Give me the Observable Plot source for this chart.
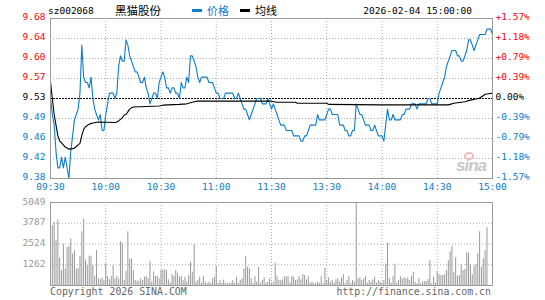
<!DOCTYPE html>
<html><head><meta charset="utf-8">
<script src="https://cdn.jsdelivr.net/npm/d3@7"></script>
<script src="https://cdn.jsdelivr.net/npm/@observablehq/plot@0.6"></script>
<style>
body{margin:0;background:#fff}
#wrap{position:relative;width:545px;height:300px;overflow:hidden;font-family:"DejaVu Sans Mono",monospace}
#wrap svg{position:absolute;left:0;top:0}
.t{position:absolute;white-space:nowrap;line-height:12px}
</style></head>
<body><div id="wrap"></div>
<script>
// ---- data ----
const code = "sz002068";
const stockName = "黑猫股份";
const legendNames = ["价格", "均线"];
const stamp = "2026-02-04 15:00:00";
const prevClose = 9.53;
const timeLabels = ["09:30","10:00","10:30","11:00","11:30","13:30","14:00","14:30","15:00"];
const timeTickIdx = [0,30,60,90,120,150,180,210,240];
const priceTicks = [9.38,9.4175,9.455,9.4925,9.53,9.5675,9.605,9.6425,9.68];
const priceTickLabels = ["9.38","9.42","9.46","9.49","9.53","9.57","9.60","9.64","9.68"];
const pctTickLabels = ["-1.57%","-1.18%","-0.79%","-0.39%","0.00%","+0.39%","+0.79%","+1.18%","+1.57%"];
const volTicks = [1262,2524,3787,5049];
const volTickLabels = ["1262","2524","3787","5049"];
// minute prices, index 0 = 09:30 ... 120 = 11:30/13:00 ... 240 = 15:00
const prices = [
9.53,9.50,9.48,9.43,9.40,9.40,9.42,9.40,9.42,9.40,
9.38,9.43,9.46,9.49,9.50,9.51,9.54,9.63,9.57,9.56,
9.56,9.55,9.57,9.53,9.51,9.50,9.49,9.50,9.47,9.47,
9.50,9.52,9.54,9.54,9.54,9.53,9.54,9.59,9.61,9.60,
9.60,9.64,9.63,9.61,9.60,9.59,9.58,9.58,9.57,9.56,
9.56,9.57,9.55,9.54,9.52,9.53,9.54,9.54,9.53,9.56,
9.57,9.58,9.57,9.55,9.55,9.54,9.55,9.55,9.54,9.54,
9.53,9.56,9.55,9.55,9.57,9.56,9.61,9.61,9.60,9.59,
9.57,9.56,9.57,9.57,9.57,9.57,9.56,9.56,9.56,9.55,
9.54,9.54,9.53,9.53,9.53,9.54,9.54,9.54,9.54,9.54,
9.53,9.53,9.54,9.53,9.52,9.51,9.51,9.50,9.49,9.50,
9.51,9.52,9.53,9.53,9.53,9.52,9.52,9.52,9.53,9.52,
9.51,9.52,9.51,9.50,9.49,9.48,9.48,9.48,9.47,9.47,
9.47,9.47,9.46,9.46,9.46,9.46,9.45,9.45,9.46,9.46,
9.47,9.48,9.48,9.48,9.48,9.50,9.49,9.49,9.49,9.49,
9.50,9.51,9.51,9.50,9.50,9.50,9.50,9.48,9.48,9.48,
9.47,9.47,9.46,9.46,9.47,9.47,9.52,9.51,9.50,9.50,
9.49,9.48,9.48,9.48,9.47,9.47,9.48,9.47,9.46,9.46,
9.46,9.45,9.48,9.51,9.49,9.49,9.50,9.49,9.49,9.49,
9.49,9.50,9.50,9.51,9.51,9.51,9.52,9.52,9.52,9.51,
9.52,9.52,9.52,9.52,9.52,9.53,9.53,9.52,9.52,9.52,
9.52,9.54,9.55,9.56,9.57,9.59,9.60,9.61,9.62,9.62,
9.62,9.61,9.61,9.60,9.60,9.61,9.62,9.64,9.64,9.63,
9.62,9.63,9.64,9.65,9.65,9.65,9.65,9.66,9.66,9.66,
9.65];
// average price line (minute index, value)
const avgIdx = [0,1,2,3,4,5,6,7,8,9,10,12,13,14,15,16,17,18,19,21,23,26,35,36,37,38,39,40,41,42,43,44,45,59,61,70,74,76,78,80,120,123,133,134,150,151,180,216,217,219,221,225,228,231,233,235,236,238,240];
const avgVal = [9.561,9.53,9.50,9.48,9.46,9.45,9.447,9.443,9.439,9.437,9.435,9.436,9.437,9.44,9.443,9.446,9.461,9.472,9.477,9.482,9.484,9.486,9.485,9.486,9.488,9.491,9.494,9.499,9.50,9.505,9.51,9.5125,9.514,9.516,9.5175,9.519,9.52,9.522,9.524,9.525,9.525,9.523,9.523,9.521,9.521,9.519,9.518,9.518,9.519,9.521,9.522,9.524,9.527,9.529,9.531,9.535,9.538,9.539,9.54];
// minute volume
const volumes = [
545,3636,3838,2727,4000,1677,909,2485,1010,2323,
2363,2828,1919,2121,1010,1010,1757,3272,4040,1555,
1212,1798,1757,1212,545,2121,404,343,465,303,
1313,545,343,545,1212,404,545,404,2666,2565,
303,869,3272,1616,1616,909,303,263,263,404,
303,505,545,404,1474,202,808,545,545,404,
909,949,949,909,343,141,667,545,909,747,
505,545,303,505,202,606,1414,808,2485,202,
303,505,141,545,202,141,202,141,404,505,
1151,141,303,141,343,141,101,141,141,303,
141,505,141,303,404,1010,1757,1111,1010,404,
101,545,202,1111,141,303,465,141,202,404,
141,202,1353,545,303,303,343,545,505,545,
141,545,505,303,343,545,343,667,606,343,
545,141,202,101,141,202,141,545,101,1050,
303,465,202,303,141,343,404,202,465,667,
101,303,545,141,303,202,5049,404,465,303,
404,545,141,303,202,343,505,141,303,202,
141,303,1313,2565,404,141,545,1313,141,303,
545,404,465,404,465,303,545,808,202,100,
404,100,202,242,242,363,1515,100,505,162,
848,666,606,606,646,909,1515,2060,2363,768,
1697,565,606,1252,909,969,1980,1980,1252,646,
1171,1252,1919,3272,1111,1616,2121,3515];

// ---- styling ----
const BLUE = "#0b7dcc", RED = "#f00", GRID = "#aaa", FRAME = "#999", VOLC = "#999";
const FONT = "'DejaVu Sans Mono', monospace";

const priceRows = prices.map((p, i) => ({i, p}));
const avgRows = avgIdx.map((i, k) => ({i, v: avgVal[k]}));
const volRows = volumes.map((v, i) => ({i, v}));
const yTickRows = priceTicks.map((v, k) => ({v, label: priceTickLabels[k], pct: pctTickLabels[k],
  color: v > prevClose + 1e-9 ? RED : (v < prevClose - 1e-9 ? BLUE : "#000")}));
const xTickRows = timeTickIdx.map((i, k) => ({i, label: timeLabels[k]}));
const innerX = timeTickIdx.slice(1, -1);
const innerY = priceTicks.filter(v => v !== prevClose && v !== priceTicks[0] && v !== priceTicks[priceTicks.length - 1]);

const common = {width: 545, height: 300, marginLeft: 50, marginRight: 53,
  style: {background: "transparent", fontFamily: FONT, fontSize: "9.5px", overflow: "visible"},
  color: {type: "identity"}};

const pricePlot = Plot.plot({
  ...common, marginTop: 18, marginBottom: 122,
  x: {domain: [0, 240], axis: null},
  y: {domain: [priceTicks[0], priceTicks[priceTicks.length - 1]], axis: null},
  marks: [
    Plot.ruleX(innerX, {stroke: GRID, strokeDasharray: "1,2"}),
    Plot.ruleY(innerY, {stroke: GRID, strokeDasharray: "1,2"}),
    Plot.ruleY([prevClose], {stroke: "#000", strokeDasharray: "2,1"}),
    Plot.line(priceRows, {x: "i", y: "p", stroke: BLUE, strokeWidth: 1.1}),
    Plot.line(avgRows, {x: "i", y: "v", stroke: "#000", strokeWidth: 1.1}),
    Plot.frame({stroke: FRAME}),
    Plot.text(yTickRows, {y: "v", text: "label", frameAnchor: "left", textAnchor: "end", dx: -5, dy: -1.5, fill: "color"}),
    Plot.text(yTickRows, {y: "v", text: "pct", frameAnchor: "right", textAnchor: "start", dx: 3, dy: -1.5, fill: "color"}),
    Plot.text(xTickRows, {x: "i", text: "label", frameAnchor: "bottom", dy: 11.5, fill: BLUE})
  ]
});

const volPlot = Plot.plot({
  ...common, marginTop: 202, marginBottom: 15,
  x: {domain: [0, 240], axis: null},
  y: {domain: [0, volTicks[volTicks.length - 1]], axis: null},
  marks: [
    Plot.ruleX(innerX, {stroke: GRID, strokeDasharray: "1,2"}),
    Plot.ruleY(volTicks.slice(0, -1), {stroke: GRID, strokeDasharray: "1,2"}),
    Plot.ruleX(volRows, {x: "i", y1: 0, y2: "v", stroke: VOLC, strokeWidth: 1}),
    Plot.frame({stroke: FRAME}),
    Plot.text(volTicks.map((v, k) => ({v, label: volTickLabels[k]})), {y: "v", text: "label", frameAnchor: "left", textAnchor: "end", dx: -5, dy: -1, fill: VOLC})
  ]
});

const wrap = document.getElementById("wrap");
wrap.appendChild(pricePlot);
wrap.appendChild(volPlot);

function addText(txt, css) {
  const d = document.createElement("div");
  d.className = "t";
  d.textContent = txt;
  Object.assign(d.style, css);
  wrap.appendChild(d);
  return d;
}
function addBox(css) {
  const d = document.createElement("div");
  d.style.position = "absolute";
  Object.assign(d.style, css);
  wrap.appendChild(d);
}
// header
addText(code, {left: "48px", top: "5px", fontSize: "9.5px", color: "#000"});
addText(stockName, {left: "115px", top: "4px", fontSize: "11.5px", color: "#000", fontFamily: "'Noto Sans CJK SC', sans-serif", lineHeight: "13px"});
addBox({left: "192px", top: "9px", width: "10px", height: "3px", background: BLUE});
addText(legendNames[0], {left: "207px", top: "4px", fontSize: "11px", color: BLUE, fontFamily: "'Noto Sans CJK SC', sans-serif", lineHeight: "13px"});
addBox({left: "240px", top: "9px", width: "10px", height: "3px", background: "#000"});
addText(legendNames[1], {left: "255px", top: "4px", fontSize: "11px", color: "#000", fontFamily: "'Noto Sans CJK SC', sans-serif", lineHeight: "13px"});
addText(stamp, {right: "73px", top: "5px", fontSize: "9.5px", color: "#000"});
// footer
addText("Copyright 2026 SINA.COM", {left: "50px", top: "286px", fontSize: "9.9px", color: "#666"});
addText("http://finance.sina.com.cn", {right: "54px", top: "286px", fontSize: "9.9px", color: "#666"});
// watermark
addBox({left: "464px", top: "152px", width: "10px", height: "8px", borderRadius: "50%", border: "2px solid #f4b8b8", boxSizing: "border-box"});
addText("sina", {left: "456px", top: "157px", fontSize: "17px", lineHeight: "17px", fontWeight: "bold", fontStyle: "italic", color: "#c8c8c8", fontFamily: "'Liberation Sans', sans-serif", letterSpacing: "-1px"});
</script>
</body></html>
